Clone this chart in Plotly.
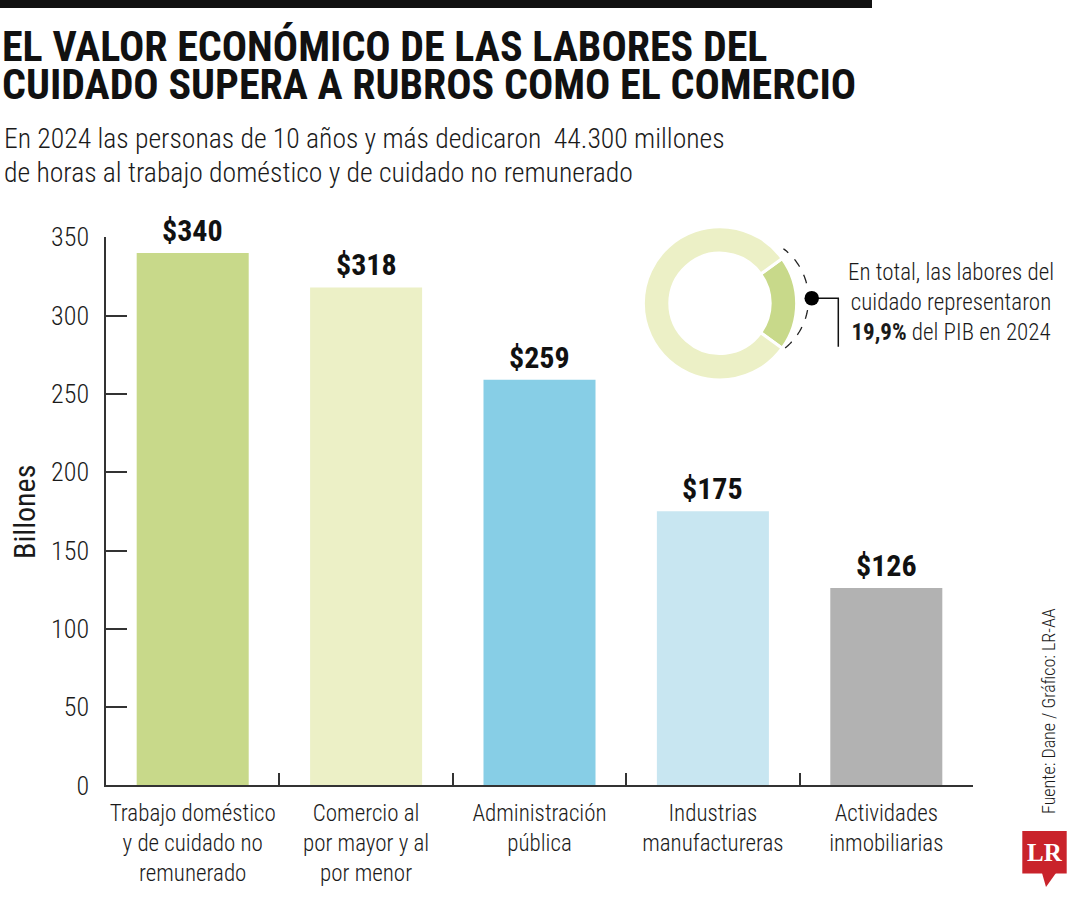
import numpy as np
import plotly.graph_objects as go

W, H = 1080, 900

# ---------------- data ----------------
categories = [
    "Trabajo doméstico<br>y de cuidado no<br>remunerado",
    "Comercio al<br>por mayor y al<br>por menor",
    "Administración<br>pública",
    "Industrias<br>manufactureras",
    "Actividades<br>inmobiliarias",
]
values = [340, 318, 259, 175, 126]
value_labels = ["$340", "$318", "$259", "$175", "$126"]
bar_colors = ["#c8d98a", "#ecf0c6", "#87cee6", "#c8e6f1", "#b2b2b2"]

y_ticks = [0, 50, 100, 150, 200, 250, 300, 350]

donut_labels = ["Labores del cuidado", "Resto del PIB"]
donut_values = [19.9, 80.1]
donut_colors = ["#c8d98a", "#ecf0c6"]

title_lines = ["EL VALOR ECONÓMICO DE LAS LABORES DEL",
               "CUIDADO SUPERA A RUBROS COMO EL COMERCIO"]
subtitle_lines = ["En 2024 las personas de 10 años y más dedicaron  44.300 millones",
                  "de horas al trabajo doméstico y de cuidado no remunerado"]
donut_text = "En total, las labores del<br>cuidado representaron<br><b>19,9%</b> del PIB en 2024"
source_text = "Fuente: Dane / Gráfico: LR-AA"

FONT = "Roboto Condensed, Noto Sans Condensed, Liberation Sans Narrow, Roboto, sans-serif"
TXT = "#1a1a1a"


def px(x):
    return x / W


def py(y):
    return 1 - y / H


fig = go.Figure()

fig.add_trace(go.Bar(
    x=categories, y=values,
    marker=dict(color=bar_colors, line=dict(width=0)),
    hoverinfo="skip", showlegend=False,
))

fig.add_trace(go.Pie(
    labels=donut_labels, values=donut_values,
    marker=dict(colors=donut_colors, line=dict(color="white", width=3)),
    hole=0.655, sort=False, direction="clockwise", rotation=54.2,
    textinfo="none", hoverinfo="skip", showlegend=False,
    domain=dict(x=[px(643), px(797)], y=[py(380), py(226.7)]),
))

annotations = []
# value labels above bars
for cat, v, lab in zip(categories, values, value_labels):
    annotations.append(dict(
        x=cat, y=v, xref="x", yref="y", text=lab, showarrow=False,
        yanchor="bottom", yshift=3,
        font=dict(family=FONT, size=30, color="#111111", weight="bold"),
    ))

# title (one annotation per line for tight leading)
for line, yc in zip(title_lines, [46, 84]):
    annotations.append(dict(
        x=px(0), y=py(yc), xref="paper", yref="paper", xanchor="left", yanchor="middle",
        text=line, showarrow=False, align="left",
        font=dict(family=FONT, size=42, color="#111111", weight="bold"),
    ))
# subtitle
for line, yc in zip(subtitle_lines, [139, 172]):
    annotations.append(dict(
        x=px(2), y=py(yc), xref="paper", yref="paper", xanchor="left", yanchor="middle",
        text=line, showarrow=False, align="left",
        font=dict(family=FONT, size=27.7, color=TXT, weight=300),
    ))
# y axis title
annotations.append(dict(
    x=px(24), y=py(512), xref="paper", yref="paper", xanchor="center", yanchor="middle",
    text="Billones", textangle=-90, showarrow=False,
    font=dict(family=FONT, size=30, color=TXT),
))
# donut text
annotations.append(dict(
    x=px(951), y=py(302), xref="paper", yref="paper", xanchor="center", yanchor="middle",
    text=donut_text, showarrow=False, align="center",
    font=dict(family=FONT, size=23, color=TXT, weight=300),
))
# source
annotations.append(dict(
    x=px(1048), y=py(711), xref="paper", yref="paper", xanchor="center", yanchor="middle",
    text=source_text, textangle=-90, showarrow=False,
    font=dict(family=FONT, size=18, color=TXT, weight=300),
))
# logo text
annotations.append(dict(
    x=px(1044.5), y=py(852), xref="paper", yref="paper", xanchor="center", yanchor="middle",
    text="<b>LR</b>", showarrow=False,
    font=dict(family="Liberation Serif, DejaVu Serif, serif", size=25, color="white"),
))

shapes = []
# top black bar
shapes.append(dict(type="rect", xref="paper", yref="paper",
                   x0=px(0), x1=px(872), y0=py(8), y1=py(0),
                   fillcolor="#111111", line=dict(width=0)))
# dashed arc around highlighted slice
cx, cy, r = 745.5, 299.0, 63.0
ang = np.radians(np.linspace(-51, 53, 60))
ax_ = cx + r * np.cos(ang)
ay_ = cy - r * np.sin(ang)
path = "M " + " L ".join(f"{px(a):.5f},{py(b):.5f}" for a, b in zip(ax_, ay_))
shapes.append(dict(type="path", xref="paper", yref="paper", path=path,
                   line=dict(color="#222222", width=1.3, dash="dash")))
# connector
shapes.append(dict(type="path", xref="paper", yref="paper",
                   path=f"M {px(811.7)},{py(298.3)} L {px(838.3)},{py(298.3)} L {px(838.3)},{py(346.7)}",
                   line=dict(color="#111111", width=1.5)))
shapes.append(dict(type="circle", xref="paper", yref="paper",
                   x0=px(804.5), x1=px(819), y0=py(305.5), y1=py(291),
                   fillcolor="#000000", line=dict(width=0)))
# LR logo
shapes.append(dict(type="rect", xref="paper", yref="paper",
                   x0=px(1022.3), x1=px(1066.7), y0=py(873.5), y1=py(831),
                   fillcolor="#c9232b", line=dict(width=0)))
shapes.append(dict(type="path", xref="paper", yref="paper",
                   path=f"M {px(1042)},{py(873)} L {px(1056)},{py(873)} L {px(1046)},{py(887)} Z",
                   fillcolor="#c9232b", line=dict(width=0)))

fig.update_layout(
    width=W, height=H,
    margin=dict(l=0, r=0, t=0, b=0, pad=0),
    paper_bgcolor="white", plot_bgcolor="white",
    bargap=0.354,
    showlegend=False,
    annotations=annotations,
    shapes=shapes,
    font=dict(family=FONT, color=TXT),
    xaxis=dict(
        domain=[px(106), px(973)],
        type="category", range=[-0.5, 4.5],
        showline=True, linecolor="#333333", linewidth=1.5,
        ticks="inside", ticklen=13, tickcolor="#333333", tickwidth=1.5,
        tickson="boundaries", showgrid=False, zeroline=False,
        tickfont=dict(family=FONT, size=23, color=TXT, weight=300),
        tickangle=0, automargin=False,
        ticklabelstandoff=6,
        fixedrange=True,
    ),
    yaxis=dict(
        domain=[py(785.4), py(237.3)],
        range=[0, 350], tickvals=y_ticks,
        showline=True, linecolor="#333333", linewidth=1.5,
        ticks="inside", ticklen=21, tickcolor="#333333", tickwidth=1.5,
        showgrid=False, zeroline=False, automargin=False,
        tickfont=dict(family=FONT, size=26, color=TXT, weight=300),
        ticklabelstandoff=10,
        fixedrange=True,
    ),
)

fig.write_html("out.html")
